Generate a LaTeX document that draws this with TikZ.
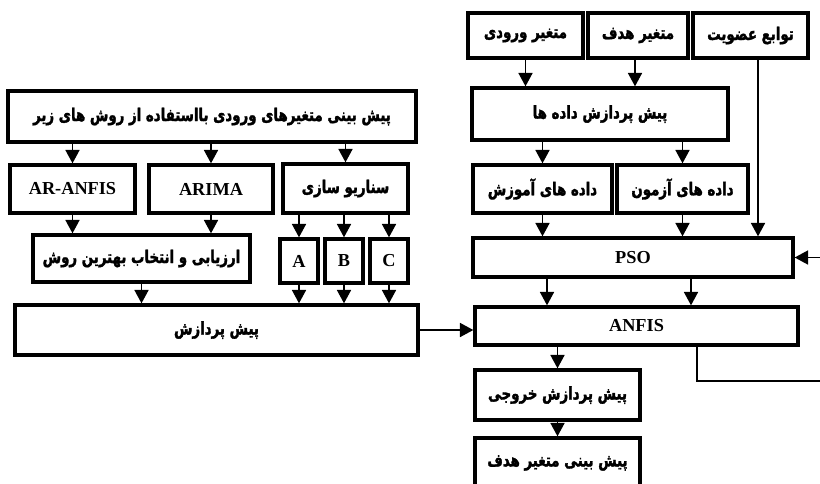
\documentclass[tikz,border=0pt]{standalone}
\usepackage{fontspec}
\setmainfont{Liberation Serif}
\newfontfamily\fafont[Script=Arabic, FakeStretch=0.76, FakeBold=1.8]{DejaVu Sans}
\TeXXeTstate=1
\usepackage{tikz}
\usetikzlibrary{arrows.meta}
\tikzset{
  boite/.style 2 args={draw, line width=2.4pt, inner sep=0pt,
    minimum width=#1*0.025cm, minimum height=#2*0.025cm,
    font=\fontsize{13}{15}\selectfont\bfseries},
  fleche/.style={-{Triangle[width=10pt,length=9.5pt]}, line width=1pt},
  trait/.style={line width=1pt}
}
\newcommand{\fa}[1]{{\fafont\fontsize{12.5}{15}\selectfont\bfseries\beginR #1\endR}}
\begin{document}
\begin{tikzpicture}[x=0.025cm,y=-0.025cm]
\useasboundingbox (0,0) rectangle (820,483);
%					Partie gauche :
\node[boite={408}{51}] (prevision) at (212,116.5) {\fa{پیش بینی متغیرهای ورودی بااستفاده از روش های زیر}};
\node[boite={125}{48}] (aranfis) at (72.5,189) {AR-ANFIS};
\node[boite={124}{48}] (arima) at (211,189) {ARIMA};
\node[boite={125}{49}] (scenario) at (345.5,188.5) {\fa{سناریو سازی}};
\node[boite={217}{47}] (evaluation) at (141.5,258.5) {\fa{ارزیابی و انتخاب بهترین روش}};
\node[boite={38}{44}] (sa) at (299,261) {A};
\node[boite={38}{44}] (sb) at (344,261) {B};
\node[boite={38}{44}] (sc) at (389,261) {C};
\node[boite={403}{50}] (pretrait) at (216.5,330) {\fa{پیش پردازش}};
%					Partie droite :
\node[boite={115}{45}] (entree) at (525.5,35.5) {\fa{متغیر ورودی}};
\node[boite={100}{45}] (cible) at (638,35.5) {\fa{متغیر هدف}};
\node[boite={115}{45}] (appartenance) at (750.5,35.5) {\fa{توابع عضویت}};
\node[boite={256}{52}] (pretraitdonnees) at (600,114) {\fa{پیش پردازش داده ها}};
\node[boite={139}{48}] (apprentissage) at (542.5,189) {\fa{داده های آموزش}};
\node[boite={131}{48}] (test) at (682.5,189) {\fa{داده های آزمون}};
\node[boite={320}{39}] (pso) at (633,257.5) {PSO};
\node[boite={323}{38}] (anfis) at (636.5,326) {ANFIS};
\node[boite={165}{50}] (postsortie) at (557.5,395) {\fa{پیش پردازش خروجی}};
\node[boite={165}{50}] (resultat) at (557.5,463) {\fa{پیش بینی متغیر هدف}};
%					Colonnes des flèches :
\coordinate (cib) at (635,0);
\coordinate (mem) at (758,58);
\coordinate (p1) at (547,0);
\coordinate (p2) at (691,0);
\coordinate (retour) at (697,381);
\coordinate (bord) at (820,381);
%					Flèches gauche :
\draw[fleche] (prevision.south -| aranfis.north) -- (aranfis.north);
\draw[fleche] (prevision.south -| arima.north) -- (arima.north);
\draw[fleche] (prevision.south -| scenario.north) -- (scenario.north);
\draw[fleche] (aranfis.south) -- (aranfis.south |- evaluation.north);
\draw[fleche] (arima.south) -- (arima.south |- evaluation.north);
\foreach \s in {sa,sb,sc}{
  \draw[fleche] (scenario.south -| \s.north) -- (\s.north);
  \draw[fleche] (\s.south) -- (\s.south |- pretrait.north);
}
\draw[fleche] (evaluation.south) -- (evaluation.south |- pretrait.north);
\draw[fleche] (pretrait.east) -- (anfis.west |- pretrait.east);
%					Flèches droite :
\draw[fleche] (entree.south) -- (entree.south |- pretraitdonnees.north);
\draw[fleche] (cib |- cible.south) -- (cib |- pretraitdonnees.north);
\draw[fleche] (pretraitdonnees.south -| apprentissage.north) -- (apprentissage.north);
\draw[fleche] (pretraitdonnees.south -| test.north) -- (test.north);
\draw[fleche] (apprentissage.south) -- (apprentissage.south |- pso.north);
\draw[fleche] (test.south) -- (test.south |- pso.north);
\draw[fleche] (mem) -- (mem |- pso.north);
\draw[fleche] (p1 |- pso.south) -- (p1 |- anfis.north);
\draw[fleche] (p2 |- pso.south) -- (p2 |- anfis.north);
\draw[fleche] (postsortie.north |- anfis.south) -- (postsortie.north);
\draw[fleche] (postsortie.south) -- (resultat.north);
%					Boucle de retour :
\draw[trait] (retour |- anfis.south) -- (retour) -- (bord);
\draw[fleche] (pso.east -| bord) -- (pso.east);
\end{tikzpicture}
\end{document}
